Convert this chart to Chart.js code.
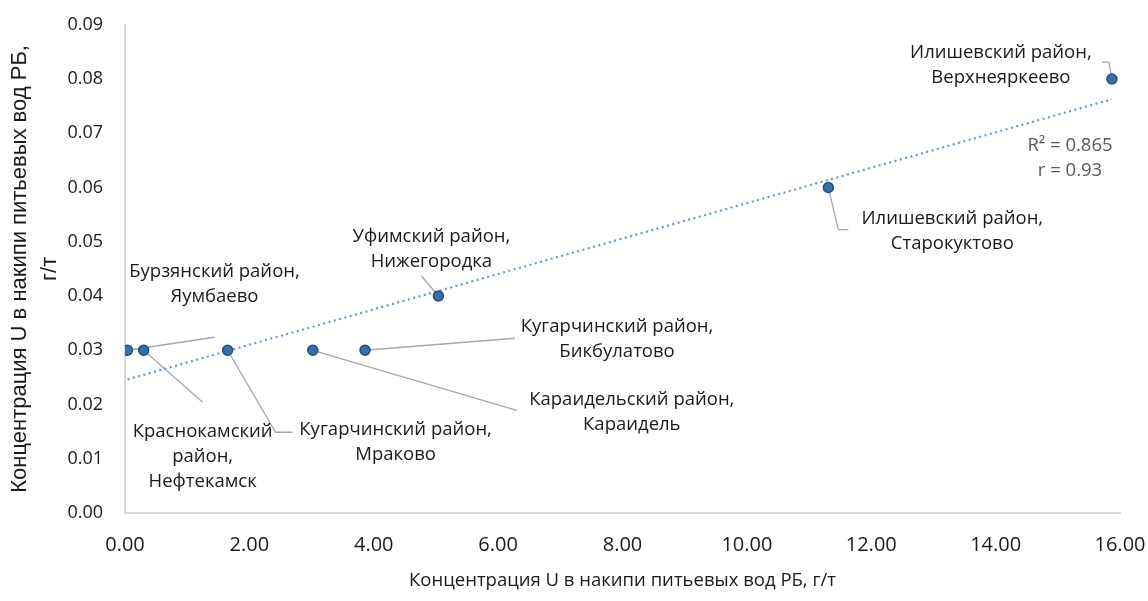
<!DOCTYPE html>
<html>
<head>
<meta charset="utf-8">
<script src="https://cdn.jsdelivr.net/npm/chart.js@4/dist/chart.umd.min.js"></script>
<style>
  body { margin: 0; background: #fff; }
  #wrap { width: 1148px; height: 601px; }
</style>
</head>
<body>
<div id="wrap"><canvas id="uChart" width="1148" height="601"></canvas></div>
<script>
// Site names (район, населённый пункт)
const siteNames = [
  ["Бурзянский район,", "Яумбаево"],
  ["Краснокамский", "район,", "Нефтекамск"],
  ["Кугарчинский район,", "Мраково"],
  ["Караидельский район,", "Караидель"],
  ["Кугарчинский район,", "Бикбулатово"],
  ["Уфимский район,", "Нижегородка"],
  ["Илишевский район,", "Старокуктово"],
  ["Илишевский район,", "Верхнеяркеево"]
];
// U in scale, g/t (x) and U in drinking water, g/t (y)
const uScale = [0.04, 0.30, 1.65, 3.02, 3.86, 5.04, 11.31, 15.87];
const uWater = [0.03, 0.03, 0.03, 0.03, 0.03, 0.04, 0.06, 0.08];
const statsText = ["R² = 0.865", "r = 0.93"];
const axisTitle = "Концентрация U в накипи питьевых вод РБ, г/т";

// label placement relative to its point, in px: text centre + leader path
const labelLayout = [
  { dx: 87,   dy: -66, leader: [[87, -13]] },
  { dx: 59,   dy: 106, leader: [[59, 52]] },
  { dx: 168,  dy: 92,  leader: [[48, 82], [65, 82]] },
  { dx: 319,  dy: 62,  leader: [[204, 60]] },
  { dx: 252,  dy: -11, leader: [[150, -12]] },
  { dx: -7,   dy: -47, leader: [[-17, -20]] },
  { dx: 124,  dy: 44,  leader: [[10, 42], [20, 42]] },
  { dx: -111, dy: -14, leader: [[-3, -17], [-10, -17]] }
];

const points = uScale.map((x, i) => ({ x: x, y: uWater[i] }));

// linear trendline (least squares) over the data range
const n = uScale.length;
const mx = uScale.reduce((a, b) => a + b, 0) / n;
const my = uWater.reduce((a, b) => a + b, 0) / n;
let sxy = 0, sxx = 0;
for (let i = 0; i < n; i++) {
  sxy += (uScale[i] - mx) * (uWater[i] - my);
  sxx += (uScale[i] - mx) * (uScale[i] - mx);
}
const slope = sxy / sxx;
const icpt = my - slope * mx;
const xMin = Math.min(...uScale), xMax = Math.max(...uScale);
const trend = [{ x: xMin, y: icpt + slope * xMin }, { x: xMax, y: icpt + slope * xMax }];

const labelPlugin = {
  id: 'pointLabels',
  beforeDatasetsDraw(chart) {
    const ctx = chart.ctx;
    const meta = chart.getDatasetMeta(0);
    ctx.save();
    ctx.strokeStyle = '#a6a6a6';
    ctx.lineWidth = 1.3;
    meta.data.forEach((pt, i) => {
      const lay = labelLayout[i];
      ctx.beginPath();
      ctx.moveTo(pt.x, pt.y);
      lay.leader.forEach(p => ctx.lineTo(pt.x + p[0], pt.y + p[1]));
      ctx.stroke();
    });
    ctx.restore();
  },
  afterDatasetsDraw(chart) {
    const ctx = chart.ctx;
    const meta = chart.getDatasetMeta(0);
    const lh = 25;
    ctx.save();
    ctx.font = '18.5px "Open Sans"';
    ctx.fillStyle = '#1a1a1a';
    ctx.textAlign = 'center';
    ctx.textBaseline = 'middle';
    meta.data.forEach((pt, i) => {
      const lay = labelLayout[i];
      const lines = siteNames[i];
      const y0 = pt.y + lay.dy - (lines.length - 1) * lh / 2;
      lines.forEach((t, k) => ctx.fillText(t, pt.x + lay.dx, y0 + k * lh));
    });
    // regression stats
    const area = chart.chartArea;
    ctx.fillStyle = '#595959';
    ctx.font = '18.5px "Open Sans"';
    statsText.forEach((t, k) => ctx.fillText(t, area.right - 50, area.top + 121 + k * 25));
    ctx.restore();
  }
};

const ctx = document.getElementById('uChart').getContext('2d');
new Chart(ctx, {
  type: 'scatter',
  data: {
    datasets: [
      {
        label: 'U',
        data: points,
        pointRadius: 5,
        pointBackgroundColor: '#3b6ea8',
        pointBorderColor: '#1f4e79',
        pointBorderWidth: 1.5
      },
      {
        label: 'trend',
        data: trend,
        showLine: true,
        pointRadius: 0,
        borderColor: '#5b9bd5',
        borderWidth: 2.2,
        borderDash: [2, 3.5],
        fill: false
      }
    ]
  },
  options: {
    responsive: false,
    animation: false,
    layout: { padding: { top: 13, right: 28, left: 0, bottom: 0 } },
    plugins: {
      legend: { display: false },
      tooltip: { enabled: false }
    },
    scales: {
      x: {
        type: 'linear',
        min: 0,
        max: 16,
        ticks: {
          stepSize: 2,
          padding: 12,
          color: '#1a1a1a',
          font: { family: '"Open Sans"', size: 20 },
          callback: v => v.toFixed(2)
        },
        grid: { display: false },
        border: { display: true, color: '#d9d9d9', width: 2 },
        title: {
          display: true,
          text: axisTitle,
          color: '#1a1a1a',
          font: { family: '"Open Sans"', size: 18.5 },
          padding: { top: 0, bottom: 9 }
        },
        afterFit: s => { s.height = 88; s.paddingLeft = 0; s.paddingRight = 0; }
      },
      y: {
        type: 'linear',
        min: 0,
        max: 0.09,
        ticks: {
          stepSize: 0.01,
          padding: 14,
          color: '#1a1a1a',
          font: { family: '"Open Sans"', size: 18 },
          callback: v => v.toFixed(2)
        },
        grid: { display: false },
        border: { display: true, color: '#d9d9d9', width: 2 },
        title: {
          display: true,
          text: [axisTitle.replace(' г/т', ''), 'г/т'],
          color: '#1a1a1a',
          font: { family: '"Liberation Sans", Arial', size: 22, lineHeight: 1.35 },
          padding: { top: 5, bottom: 0 }
        },
        afterFit: s => { s.width = 125; }
      }
    }
  },
  plugins: [labelPlugin]
});
</script>
</body>
</html>
